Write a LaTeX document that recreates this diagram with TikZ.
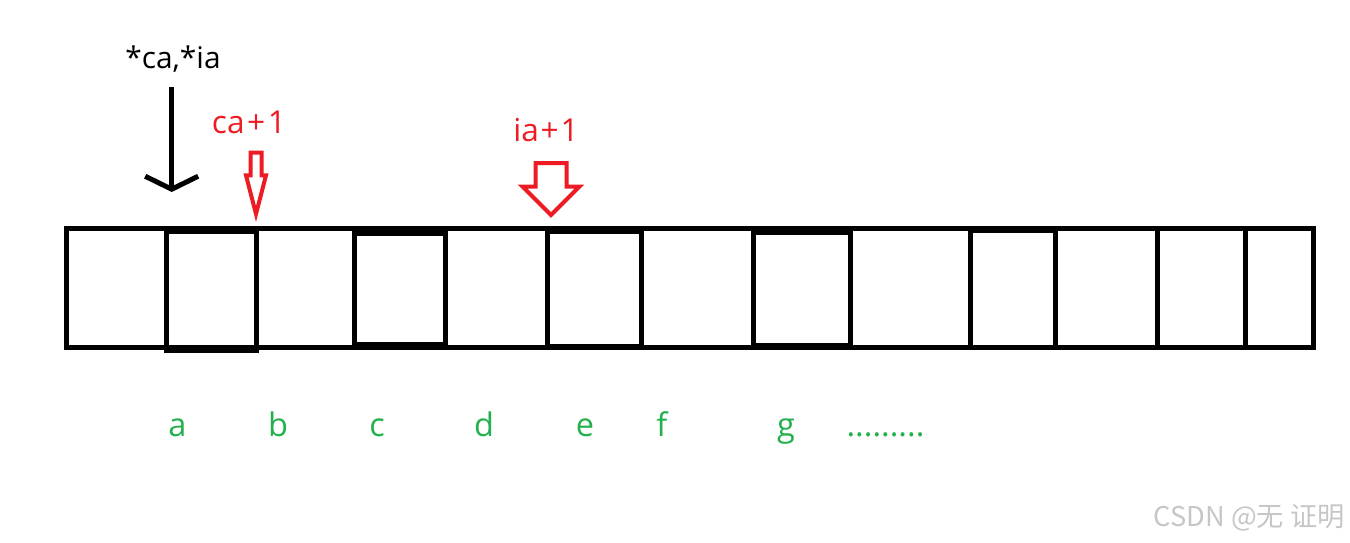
\documentclass[tikz,border=0pt]{standalone}
\usepackage{fontspec}
\setmainfont{Open Sans}
\newfontfamily\cjk{Noto Sans CJK SC}
\usetikzlibrary{arrows.meta,shapes.arrows}
\definecolor{paintred}{HTML}{ED1C24}
\definecolor{paintgreen}{HTML}{22B14C}

\begin{document}
\begin{tikzpicture}[x=0.02cm, y=-0.02cm,
box/.style={line width=0.1cm},
ptrlabel/.style={anchor=base, inner sep=0, font=\fontsize{17pt}{20pt}\selectfont},
redlabel/.style={ptrlabel, text=paintred, font=\fontsize{18pt}{21pt}\selectfont},
letter/.style={ptrlabel, text=paintgreen, font=\fontsize{18.5pt}{22pt}\selectfont},
hollow/.style={single arrow, draw=paintred, line width=0.08cm, rotate=-90,
  anchor=tip, outer sep=0, inner xsep=0},
pointer/.style={line width=0.1cm,
  -{Straight Barb[length=0.26cm, width=1.06cm, line width=0.1cm]}}
]
\useasboundingbox (0,0) rectangle (1350,542);
% the array
\draw[box] (66.5,228.5) rectangle (1313.5,347.5);
\foreach \x in {166.5,256.5,354.7,445,547.5,641.6,753.3,850.4,970.4,1055.7,1157.3,1245.5}
  \draw[box] (\x,228.5) -- (\x,347.5);
% cells gone over again by hand
\foreach \xa/\xb/\ya/\yb in {166.5/256.5/231.5/350.2, 354.7/445/233.5/344.5,
    547.5/641.6/231.5/346.5, 753.3/850.4/232.5/345, 970.4/1055.7/230.5/347.5}
  \draw[box] (\xa,\ya) rectangle (\xb,\yb);

% pointers
\node[ptrlabel] (ptr) at (173,68) {*ca,*ia};
\coordinate (ptrtail) at (171.7,87);
\coordinate (ptrtip) at (171.7,192);
\draw[pointer] (ptrtail) -- (ptrtip);

\node[redlabel] (caone) at (249,133) {ca\kern1.5pt+\kern1.5pt1};
\node[hollow, minimum height=1.226cm, minimum width=0.32cm, inner ysep=0.07cm,
  single arrow head extend=0.09cm, single arrow tip angle=29] (caarrow) at (256,214) {};

\node[redlabel] (iaone) at (546,141.7) {ia\kern1pt+\kern1pt1};
\node[hollow, minimum height=1.04cm, minimum width=1.06cm, inner ysep=0.27cm,
  single arrow head extend=0.26cm] (iaarrow) at (551,215) {};

% element labels
\foreach \l/\x in {a/177.5, b/278, c/377, d/484, e/585, f/662, g/786}
  \node[letter] (lab-\l) at (\x,436) {\l};
\node[letter] (labdots) at (885.5,436) {.........};

\node[anchor=base east, inner sep=0, text=gray!45,
  font=\cjk\fontsize{15.5pt}{18pt}\selectfont] (mark) at (1345,526) {CSDN @无 证明};
\end{tikzpicture}
\end{document}
